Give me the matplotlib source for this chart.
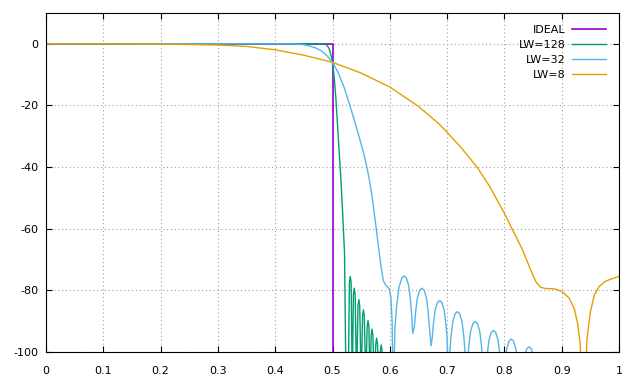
import numpy as np
import matplotlib.pyplot as plt

plt.rcParams['font.family'] = 'DejaVu Sans'
plt.rcParams['font.size'] = 8
plt.rcParams['axes.unicode_minus'] = False

#ideal brickwall response
freq_ideal = [0.0, 0.5, 0.5]
db_ideal = [0.0, 0.0, -200.0]

#LW=128
freq_128 = [0.0, 0.485, 0.49, 0.494, 0.497, 0.5, 0.503, 0.506, 0.509, 0.512, 0.515, 0.518, 0.521, 0.5235,
            0.5275, 0.5295, 0.531, 0.5325, 0.5345, 0.5365, 0.538, 0.5395, 0.542,
            0.5445, 0.546, 0.5475, 0.550, 0.5525, 0.554, 0.5555, 0.558,
            0.5605, 0.562, 0.5635, 0.5655, 0.5675, 0.569, 0.5705, 0.573,
            0.5755, 0.577, 0.5785, 0.581, 0.5835, 0.585, 0.5865, 0.589, 0.593, 0.6, 1.0]
db_128 = [0.0, 0.0, -0.4, -1.5, -3.3, -6.0, -10.8, -18.0, -27.0, -36.0, -45.0, -56.0, -68.0, -110.0,
          -110.0, -77.5, -75.5, -77.5, -110.0, -81.3, -79.3, -81.3, -110.0,
          -85.0, -83.0, -85.0, -110.0, -88.3, -86.3, -88.3, -110.0,
          -91.8, -89.8, -91.8, -110.0, -94.6, -92.6, -94.6, -110.0,
          -97.5, -95.5, -97.5, -110.0, -99.7, -97.7, -99.7, -110.0, -100.5, -115.0, -120.0]

#LW=32
freq_32 = [0.0, 0.43, 0.44, 0.45, 0.46, 0.47, 0.48, 0.49, 0.5, 0.51, 0.52, 0.53, 0.54, 0.55, 0.555,
           0.56, 0.565, 0.57, 0.575, 0.58, 0.585, 0.589, 0.594, 0.599, 0.602, 0.604, 0.606,
           0.609, 0.612, 0.616, 0.621, 0.625, 0.629, 0.633, 0.636, 0.638, 0.640,
           0.643, 0.645, 0.648, 0.652, 0.656, 0.660, 0.664, 0.667, 0.669, 0.672,
           0.674, 0.676, 0.679, 0.683, 0.687, 0.691, 0.695, 0.698, 0.700, 0.703,
           0.705, 0.707, 0.710, 0.714, 0.718, 0.722, 0.726, 0.729, 0.731, 0.734,
           0.736, 0.738, 0.741, 0.745, 0.749, 0.753, 0.757, 0.760, 0.762, 0.765,
           0.768, 0.770, 0.773, 0.777, 0.781, 0.785, 0.789, 0.792, 0.794, 0.796,
           0.799, 0.801, 0.804, 0.808, 0.812, 0.816, 0.820, 0.823, 0.825, 0.828,
           0.830, 0.832, 0.835, 0.839, 0.843, 0.847, 0.851, 0.854, 0.856, 0.858, 1.0]
db_32 = [0.0, 0.0, -0.1, -0.3, -0.7, -1.3, -2.2, -3.8, -6.0, -9.4, -14.0, -19.8, -26.0, -32.5, -36.0,
         -40.0, -44.8, -50.8, -58.0, -65.5, -72.8, -77.0, -78.6, -79.4, -82.5, -90.0, -115.0,
         -92.0, -85.0, -79.0, -76.0, -75.3, -76.0, -78.5, -83.1, -87.6, -94.0,
         -91.6, -87.1, -82.5, -80.0, -79.3, -80.0, -82.5, -87.1, -91.6, -98.0,
         -95.6, -91.1, -86.5, -84.0, -83.3, -84.0, -86.5, -91.1, -95.6, -115.0,
         -99.2, -94.7, -90.1, -87.6, -86.9, -87.6, -90.1, -94.7, -99.2, -115.0,
         -102.4, -97.9, -93.3, -90.8, -90.1, -90.8, -93.3, -97.9, -102.4, -115.0,
         -105.3, -100.8, -96.2, -93.7, -93.0, -93.7, -96.2, -100.8, -105.3, -115.0,
         -108.1, -103.6, -99.0, -96.5, -95.8, -96.5, -99.0, -103.6, -108.1, -115.0,
         -110.6, -106.1, -101.5, -99.0, -98.3, -99.0, -101.5, -106.1, -110.6, -118.0, -118.0]

#LW=8
freq_8 = [0.0, 0.1, 0.15, 0.2, 0.25, 0.3, 0.32, 0.35, 0.4, 0.45, 0.5, 0.55, 0.6, 0.63, 0.65,
          0.686, 0.7, 0.725, 0.753, 0.775, 0.8, 0.82, 0.832, 0.845, 0.855, 0.863, 0.872, 0.887,
          0.9, 0.913, 0.922, 0.928, 0.932, 0.936, 0.938, 0.941, 0.944, 0.95, 0.957, 0.965,
          0.977, 0.988, 1.0]
db_8 = [0.0, -0.02, -0.06, -0.12, -0.22, -0.4, -0.55, -0.85, -1.95, -3.7, -6.0, -9.5, -14.0, -17.8, -20.3,
        -26.0, -28.7, -33.8, -40.2, -46.5, -55.0, -62.5, -67.0, -73.0, -77.2, -79.0, -79.4, -79.5,
        -80.3, -82.5, -86.0, -91.0, -97.0, -110.0, -130.0, -110.0, -96.0, -87.0, -81.5, -78.8,
        -77.0, -76.2, -75.5]

fig = plt.figure(figsize=(6.4, 3.84), dpi=100)
ax = fig.add_axes([46/640, 1 - 352/384, 573/640, 339/384])

ax.plot(freq_ideal, db_ideal, color='#9400d3', lw=1.2, label='IDEAL')
ax.plot(freq_128, db_128, color='#009e73', lw=1.0, label='LW=128')
ax.plot(freq_32, db_32, color='#56b4e9', lw=1.0, label='LW=32')
ax.plot(freq_8, db_8, color='#e69f00', lw=1.0, label='LW=8')

ax.set_xlim(0, 1)
ax.set_ylim(-100, 10)
ax.set_xticks(np.arange(0, 1.01, 0.1))
ax.set_xticklabels(['0', '0.1', '0.2', '0.3', '0.4', '0.5', '0.6', '0.7', '0.8', '0.9', '1'])
ax.set_yticks([-100, -80, -60, -40, -20, 0])
ax.set_yticklabels(['-100', '-80', '-60', '-40', '-20', '0'])

ax.tick_params(direction='in', top=True, right=True, length=4, width=0.8)
ax.tick_params(axis='x', pad=10)
ax.tick_params(axis='y', pad=5.5)
for s in ax.spines.values():
    s.set_linewidth(0.8)
ax.grid(True, color='#a0a0a0', linestyle=(0, (1, 2.5)), linewidth=0.8)

ax.legend(loc='upper right', bbox_to_anchor=(0.977, 0.965), frameon=False, markerfirst=False,
          handlelength=3.0, handletextpad=0.6, labelspacing=0.45, borderpad=0, borderaxespad=0)

plt.savefig('out.png', dpi=100)
